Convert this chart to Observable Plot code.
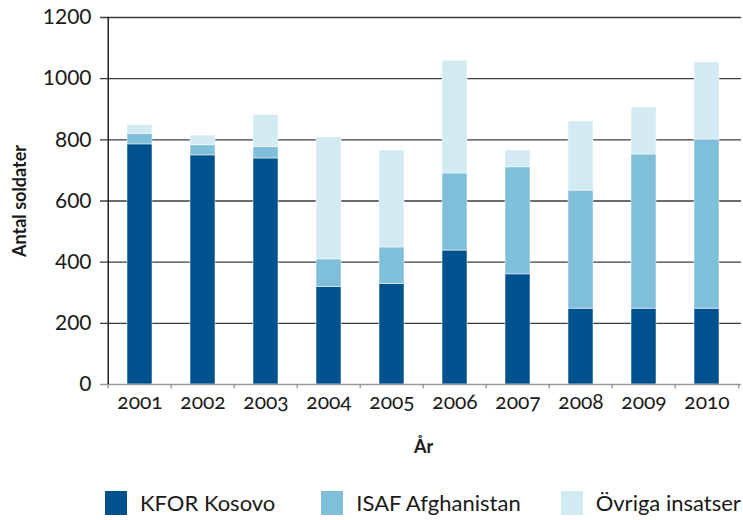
<!DOCTYPE html>
<html><head><meta charset="utf-8">
<script src="https://cdn.jsdelivr.net/npm/d3@7"></script>
<script src="https://cdn.jsdelivr.net/npm/@observablehq/plot@0.6"></script>
<style>
body{margin:0;background:#fff;font-family:Lato,"Open Sans",sans-serif;color:#1a1a1a;overflow:hidden;}
#chart svg{font-family:Lato,"Open Sans",sans-serif;font-variant-numeric:oldstyle-nums;overflow:visible;}
g[aria-label="x-axis label"] text, g[aria-label="y-axis label"] text{font-weight:bold;font-size:18px;font-variant-numeric:normal;}
#legend{margin-left:105px;margin-top:21px;width:700px;}
.lg-swatches{font-family:Lato,"Open Sans",sans-serif;font-size:22px;line-height:24px;color:#1a1a1a;display:flex;flex-wrap:nowrap !important;white-space:nowrap;width:max-content;min-height:24px !important;}
.lg-swatch{margin-right:40px !important;align-items:center;}
.lg-swatch:nth-child(2){margin-right:46px !important;}
.lg-swatch svg{margin-right:13px !important;}
</style></head><body>
<div id="chart"></div>
<div id="legend"></div>
<script>
const years = ["2001","2002","2003","2004","2005","2006","2007","2008","2009","2010"];
const kfor = [785,749,739,318,328,438,360,248,248,248];
const isaf = [35,33,37,91,120,252,350,386,504,553];
const ovriga = [28,32,106,399,317,369,55,226,154,252];
const seriesNames = ["KFOR Kosovo","ISAF Afghanistan","Övriga insatser"];
const seriesColors = ["#00528f","#7fbfda","#d2eaf1"];
const yTicks = [0,200,400,600,800,1000,1200];

const rows = years.flatMap((yr,i) => [
  {year: yr, series: seriesNames[0], value: kfor[i]},
  {year: yr, series: seriesNames[1], value: isaf[i]},
  {year: yr, series: seriesNames[2], value: ovriga[i]}
]);

const W = 743, ML = 105, MR = 2;
const step = (W - ML - MR) / years.length;

const chart = Plot.plot({
  width: W, height: 470,
  marginLeft: ML, marginRight: MR, marginTop: 17, marginBottom: 86,
  style: {fontSize: "21px", color: "#1a1a1a", background: "#fff"},
  x: {type: "band", domain: years, paddingInner: 0.6, paddingOuter: 0.3,
      tickSize: 0, tickPadding: 10, label: "År", labelAnchor: "center", labelOffset: 68},
  y: {domain: [0,1200], ticks: yTicks, tickFormat: d => String(d), tickSize: 0, tickPadding: 14,
      label: "Antal soldater", labelAnchor: "center", labelOffset: 92, labelArrow: "none"},
  color: {domain: seriesNames, range: seriesColors},
  marks: [
    Plot.ruleY(yTicks.filter(t => t > 0), {y: d => d, stroke: "#3c3c3c", strokeWidth: 1.3, insetLeft: -5}),
    Plot.barY(rows, {x: "year", y: "value", fill: "series", stroke: "#fff", strokeWidth: 0.5}),
    Plot.ruleY([0], {y: d => d, stroke: "#9a9a9a", strokeWidth: 1.3, insetLeft: -5}),
    Plot.ruleX(years, {x: d => d, dx: -step/2, y1: 0, y2: -14, stroke: "#8a8a8a", strokeWidth: 1.2}),
    Plot.ruleX([years[years.length-1]], {x: d => d, dx: step/2, y1: 0, y2: -14, stroke: "#8a8a8a", strokeWidth: 1.2}),
    Plot.ruleX([years[0]], {x: d => d, dx: -step/2, y1: 0, y2: 1200, stroke: "#000", strokeWidth: 1.3})
  ]
});
document.getElementById("chart").append(chart);

const legend = Plot.legend({
  color: {type: "ordinal", domain: seriesNames, range: seriesColors},
  swatchWidth: 22, swatchHeight: 24, className: "lg"
});
document.getElementById("legend").append(legend);
</script>
</body></html>
